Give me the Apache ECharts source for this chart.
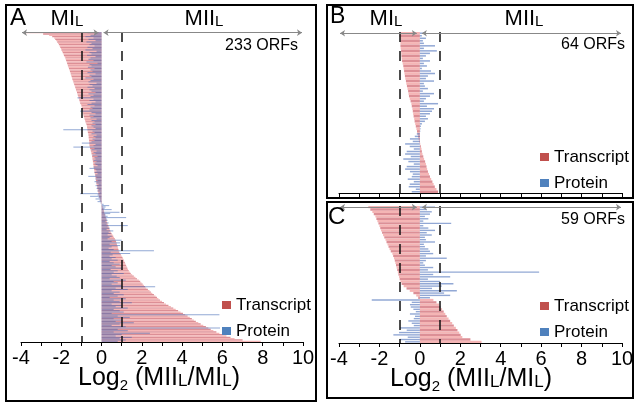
<!DOCTYPE html>
<html><head><meta charset="utf-8">
<script src="https://cdn.jsdelivr.net/npm/echarts@6/dist/echarts.min.js"></script>
<style>html,body{margin:0;padding:0;background:#fff}#c{width:640px;height:406px}</style>
</head><body><div id="c"></div>
<script>
// ---- data (log2 MIIL/MIL), one row per ORF, top to bottom ----
const xTickLabels = [-4, -2, 0, 2, 4, 6, 8, 10];

const aTranscript = [
-3.8,-2.9,-2.6,-2.45,-2.35,-2.3,-2.25,-2.2,-2.16,-2.12,
-2.08,-2.05,-2.02,-1.99,-1.96,-1.93,-1.9,-1.87,-1.84,-1.8,
-1.78,-1.76,-1.73,-1.71,-1.69,-1.67,-1.64,-1.62,-1.6,-1.57,
-1.55,-1.53,-1.51,-1.49,-1.47,-1.45,-1.43,-1.4,-1.38,-1.36,
-1.33,-1.31,-1.29,-1.27,-1.24,-1.22,-1.2,-1.18,-1.16,-1.14,
-1.12,-1.1,-1.08,-1.06,-1.03,-1.0,-0.98,-0.97,-0.95,-0.94,
-0.92,-0.91,-0.9,-0.88,-0.86,-0.84,-0.82,-0.8,-0.78,-0.75,
-0.73,-0.72,-0.71,-0.7,-0.69,-0.68,-0.66,-0.65,-0.64,-0.64,
-0.63,-0.62,-0.62,-0.61,-0.61,-0.6,-0.58,-0.57,-0.55,-0.53,
-0.51,-0.5,-0.48,-0.47,-0.46,-0.45,-0.44,-0.43,-0.42,-0.41,
-0.4,-0.39,-0.38,-0.37,-0.36,-0.35,-0.34,-0.32,-0.31,-0.3,
-0.29,-0.28,-0.27,-0.26,-0.25,-0.23,-0.22,-0.21,-0.2,-0.19,
-0.17,-0.16,-0.15,-0.13,-0.11,-0.09,-0.07,-0.05,-0.03,-0.01,
0.02,0.05,0.08,0.1,0.12,0.13,0.15,0.17,0.19,0.21,
0.23,0.25,0.26,0.28,0.31,0.34,0.36,0.38,0.4,0.43,
0.46,0.5,0.54,0.58,0.62,0.66,0.7,0.72,0.74,0.76,
0.78,0.8,0.82,0.84,0.85,0.88,0.92,0.96,1.0,1.04,
1.07,1.1,1.13,1.16,1.19,1.22,1.25,1.28,1.31,1.35,
1.4,1.45,1.52,1.6,1.68,1.76,1.85,1.92,1.98,2.04,
2.1,2.16,2.22,2.3,2.38,2.45,2.52,2.6,2.68,2.75,
2.82,2.9,3.0,3.1,3.2,3.32,3.44,3.56,3.68,3.8,
3.92,4.04,4.15,4.27,4.38,4.48,4.58,4.68,4.8,4.92,
5.05,5.18,5.3,5.42,5.55,5.7,5.85,6.0,6.2,6.4,
6.6,7.0,7.9];

const aProtein = [
-0.7,-0.3,-0.55,-0.8,-0.4,-0.65,-0.3,-0.75,-0.5,-0.6,
-0.35,-0.7,-0.45,-0.8,-0.25,-0.6,-0.5,-0.72,-0.3,-0.55,
-0.65,-0.4,-0.75,-0.2,-0.6,-0.5,-0.68,-0.35,-0.55,-0.45,
-0.7,-0.3,-0.6,-0.5,-0.8,-0.4,-0.55,-0.65,-0.25,-0.6,
-0.45,-0.7,-0.35,-0.6,-0.5,-0.3,-0.65,-0.4,-0.55,-1.2,
-0.4,-0.6,-0.3,-0.5,-0.7,-0.35,-0.55,-0.45,-0.6,-1.06,
-0.5,-0.3,-0.6,-0.4,-0.55,-0.25,-0.5,-0.35,-0.45,-0.3,
-0.5,-0.4,-0.3,-1.9,-0.45,-0.35,-0.5,-0.25,-0.4,-0.3,
-0.45,-0.35,-0.5,-0.98,-0.3,-0.4,-1.4,-0.35,-0.5,-0.25,
-0.4,-0.3,-0.45,-0.2,-0.35,-0.3,-0.4,-0.25,-0.35,-0.3,
-0.2,-0.4,-0.6,-0.3,-0.25,-0.35,-0.2,-0.3,-0.66,-0.25,
-0.3,-0.2,-0.35,-0.25,-0.15,-0.3,-0.2,-0.25,-0.15,-0.2,
-0.1,-1.06,-0.2,-0.57,-0.15,-0.3,-0.1,-0.2,-0.05,0.1,
0.38,0.2,0.15,0.5,0.1,0.89,0.43,0.2,0.3,1.22,
0.25,0.3,0.2,0.35,0.25,1.3,0.3,0.4,0.25,0.58,
0.35,0.45,0.3,0.5,0.4,0.3,1.0,0.5,0.92,0.4,
0.92,0.5,0.35,0.6,2.6,0.45,1.42,0.55,0.4,0.7,
0.5,0.8,0.4,0.6,0.9,0.5,0.7,1.0,0.45,0.8,
0.6,1.1,0.5,0.75,0.9,0.4,1.2,0.6,0.8,0.5,
1.0,2.66,0.7,1.3,0.5,0.9,0.6,1.1,0.8,0.4,
1.2,0.6,0.9,1.5,0.5,1.0,0.7,1.3,0.6,0.9,
1.1,0.5,5.85,0.8,1.4,0.6,1.0,0.7,1.6,0.9,
0.5,1.2,5.88,0.8,1.3,0.6,2.4,1.0,0.7,1.5,
0.9,1.2,0.8];

const bTranscript = [
-0.95,-1.0,-0.98,-0.97,-0.96,-0.96,-0.95,-0.93,-0.92,-0.91,
-0.9,-0.88,-0.85,-0.82,-0.8,-0.78,-0.76,-0.74,-0.72,-0.69,
-0.67,-0.64,-0.61,-0.58,-0.56,-0.54,-0.5,-0.46,-0.42,-0.4,
-0.37,-0.35,-0.33,-0.31,-0.28,-0.26,-0.23,-0.2,-0.17,-0.14,
-0.11,-0.08,-0.06,-0.03,0.02,0.05,0.08,0.1,0.13,0.17,
0.21,0.26,0.3,0.33,0.36,0.4,0.45,0.5,0.56,0.62,
0.68,0.74,0.82,0.9];

const bProtein = [
0.29,0.1,0.3,0.15,0.2,0.75,0.2,0.84,0.5,0.3,
0.15,0.5,0.2,0.35,0.1,0.55,0.75,0.4,0.3,0.7,
0.2,0.25,0.4,0.15,0.7,0.5,0.3,0.2,0.9,0.35,
0.7,0.6,0.5,0.3,0.4,0.25,0.1,0.05,0.03,0.02,
-0.15,-0.25,-0.49,-0.35,-0.73,-0.5,-0.3,-0.65,-0.73,-0.45,
-0.82,-0.57,-0.3,-0.65,-0.73,-0.49,-0.35,-0.4,-0.6,-0.3,
-0.5,-0.55,-0.2,-0.4];

const cTranscript = [
-2.55,-2.45,-2.35,-2.28,-2.2,-2.15,-2.1,-2.05,-2.0,-1.96,
-1.92,-1.87,-1.82,-1.76,-1.7,-1.65,-1.6,-1.55,-1.5,-1.44,
-1.36,-1.32,-1.28,-1.24,-1.21,-1.18,-1.15,-1.12,-1.09,-1.06,
-1.03,-1.0,-0.96,-0.9,-0.8,-0.66,-0.5,-0.32,-0.18,-0.08,
0.67,0.82,0.95,1.02,1.1,1.18,1.26,1.33,1.42,1.5,
1.6,1.68,1.78,1.86,1.95,2.02,2.1,2.5,3.05];

const cProtein = [
0.75,0.34,0.59,0.5,0.25,0.42,0.17,1.55,0.17,0.42,
0.75,0.34,0.59,0.25,0.3,0.75,0.2,0.25,0.42,0.5,
0.66,0.3,1.33,0.3,0.17,0.25,0.66,0.4,5.9,0.66,
1.5,0.4,1.0,1.66,1.08,0.6,1.83,1.2,1.5,0.5,
-2.38,-0.4,-0.49,-0.45,-0.32,-0.2,-0.49,-0.24,-0.3,-0.57,
-0.4,-0.3,-0.98,-0.65,-1.03,-1.31,-0.6,-0.98,-0.73];

// ---- chart ----
const FONT = '"Liberation Sans", Arial, Helvetica, sans-serif';
const chart = echarts.init(document.getElementById('c'), null, {renderer: 'canvas'});

const grids = [
  {left: 21, top: 32, width: 282, height: 310},
  {left: 339, top: 32, width: 283, height: 161},
  {left: 339, top: 206, width: 283, height: 137}
];
const panels = [
  {t: aTranscript, p: aProtein, labels: true},
  {t: bTranscript, p: bProtein, labels: false},
  {t: cTranscript, p: cProtein, labels: true}
];

const xAxis = [], yAxis = [], series = [];
panels.forEach((pn, g) => {
  const cats = pn.t.map((_, i) => 'ORF ' + (i + 1));
  xAxis.push({
    gridIndex: g, type: 'value', min: -4, max: 10, interval: 1,
    axisLine: {show: true, onZero: false, lineStyle: {color: '#000', width: 1}},
    axisTick: {show: true, length: 4, lineStyle: {color: '#000', width: 1}},
    splitLine: {show: false},
    axisLabel: {show: pn.labels, fontFamily: FONT, fontSize: 20, color: '#000', margin: 6,
      formatter: v => xTickLabels.includes(v) ? String(v) : ''}
  });
  yAxis.push({gridIndex: g, type: 'category', data: cats, inverse: true, show: false});
  yAxis.push({gridIndex: g, type: 'category', data: cats, inverse: true, show: false});
  series.push({
    type: 'bar', name: 'Transcript', xAxisIndex: g, yAxisIndex: 2 * g, data: pn.t,
    barWidth: '100%', barCategoryGap: '0%', silent: true,
    itemStyle: {color: p => (p.dataIndex % 2 ? '#dc8f96' : '#f5b5b5')},
    markLine: {
      silent: true, symbol: 'none', label: {show: false}, animation: false,
      lineStyle: {color: '#111', width: 1.5, type: [10, 9]},
      data: [{xAxis: -1}, {xAxis: 1}]
    }
  });
  series.push({
    type: 'bar', name: 'Protein', xAxisIndex: g, yAxisIndex: 2 * g + 1, data: pn.p,
    barWidth: '60%', silent: true,
    itemStyle: {color: 'rgba(60,100,180,0.56)'},
    markLine: {
      silent: true, symbol: ['arrow', 'arrow'], symbolSize: 5, label: {show: false}, animation: false,
      lineStyle: {color: '#888', width: 1, type: 'solid'},
      data: [
        [{coord: [-3.95, cats[0]]}, {coord: [-0.15, cats[0]]}],
        [{coord: [0.1, cats[0]]}, {coord: [9.95, cats[0]]}]
      ]
    }
  });
});

const legendBase = {
  orient: 'vertical', icon: 'rect', itemWidth: 9, itemHeight: 8, itemGap: 8, padding: 0,
  selectedMode: false,
  textStyle: {fontFamily: FONT, fontSize: 17, color: '#000', lineHeight: 18},
  data: [
    {name: 'Transcript', itemStyle: {color: '#c0504d'}},
    {name: 'Protein', itemStyle: {color: '#4f81bd'}}
  ]
};
const legend = [
  Object.assign({}, legendBase, {left: 222, top: 296}),
  Object.assign({}, legendBase, {left: 540, top: 148}),
  Object.assign({}, legendBase, {left: 540, top: 297})
];

function txt(x, y, text, fs, align, rich) {
  const st = {text: text, fontFamily: FONT, fontSize: fs, fill: '#000', align: align, verticalAlign: 'middle'};
  if (rich) st.rich = rich;
  return {type: 'text', x: x, y: y, silent: true, z: 100, style: st};
}
const mRich = {
  a: {fontFamily: FONT, fontSize: 22, lineHeight: 26, fill: '#000'},
  b: {fontFamily: FONT, fontSize: 15, lineHeight: 15, padding: [5, 0, 0, 0], fill: '#000'}
};
const tRich = {
  a: {fontFamily: FONT, fontSize: 25, lineHeight: 30, fill: '#000'},
  s: {fontFamily: FONT, fontSize: 15, lineHeight: 14, verticalAlign: 'bottom', fill: '#000'},
  b: {fontFamily: FONT, fontSize: 17, lineHeight: 17, padding: [6, 0, 0, 0], fill: '#000'}
};
const titleText = '{a|Log}{s|2}{a| (MII}{b|L}{a|/MI}{b|L}{a|)}';
const box = (x, y, w, h) => ({type: 'rect', silent: true, z: 100, shape: {x: x, y: y, width: w, height: h},
  style: {fill: 'none', stroke: '#000', lineWidth: 2}});

const graphic = [
  box(6, 5, 310, 396), box(327, 5, 306, 193), box(327, 202, 306, 196),
  txt(10, 18.6, 'A', 24, 'left'),
  txt(330, 17, 'B', 23, 'left'),
  txt(328, 217.3, 'C', 24, 'left'),
  txt(67, 19.3, '{a|MI}{b|L}', 22, 'center', mRich),
  txt(204, 19.3, '{a|MII}{b|L}', 22, 'center', mRich),
  txt(386, 19.3, '{a|MI}{b|L}', 22, 'center', mRich),
  txt(524, 19.3, '{a|MII}{b|L}', 22, 'center', mRich),
  txt(298, 45.4, '233 ORFs', 16, 'right'),
  txt(625, 44.4, '64 ORFs', 16, 'right'),
  txt(625, 219.4, '59 ORFs', 16, 'right'),
  txt(159, 378.3, titleText, 25, 'center', tRich),
  txt(471, 379.3, titleText, 25, 'center', tRich)
];

chart.setOption({
  animation: false,
  backgroundColor: '#fff',
  grid: grids,
  xAxis: xAxis,
  yAxis: yAxis,
  legend: legend,
  series: series,
  graphic: graphic
});
</script>
</body></html>
